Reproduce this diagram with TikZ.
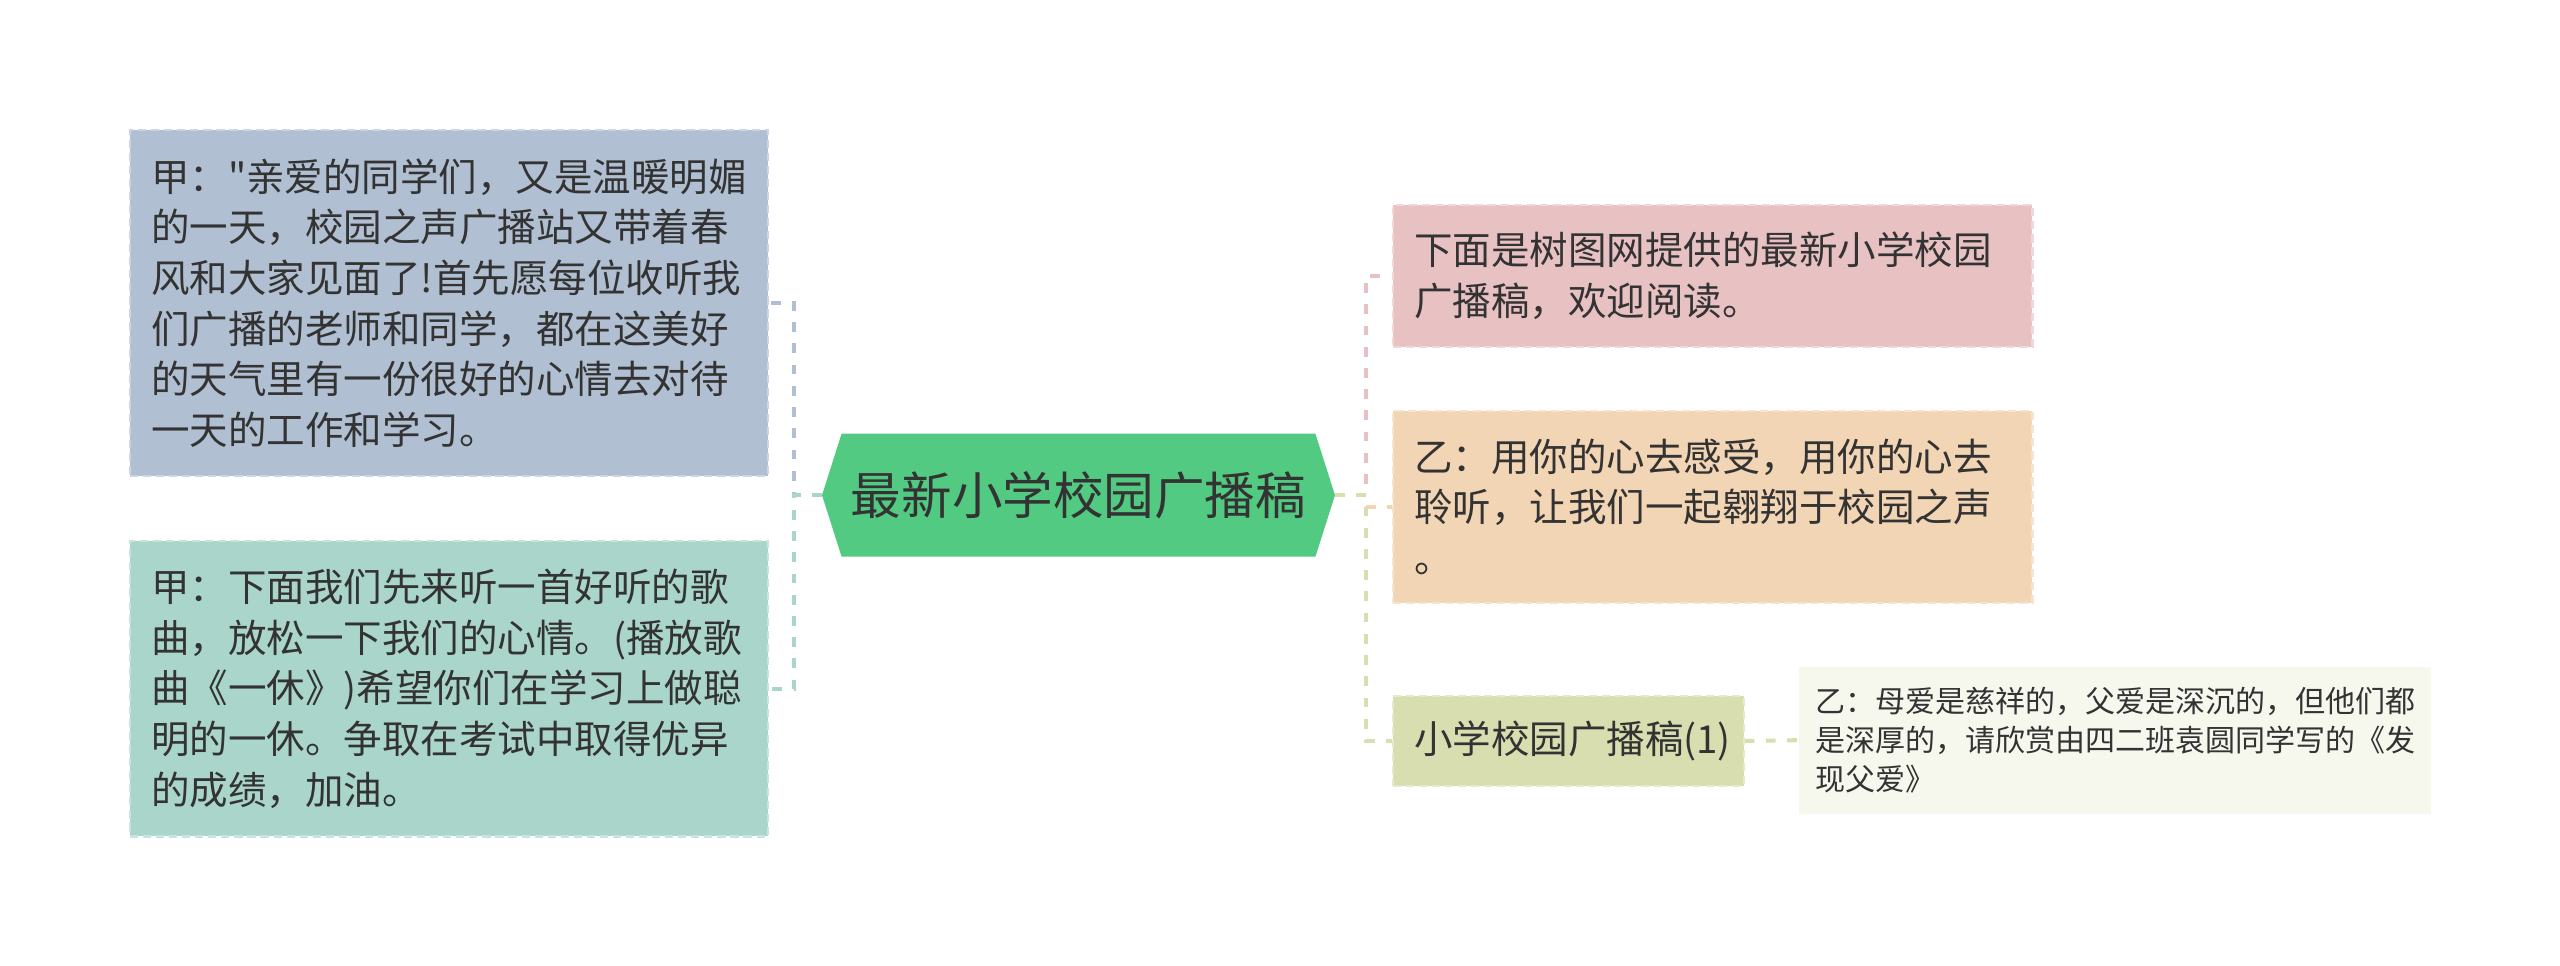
\documentclass[tikz,border=0pt]{standalone}
\usepackage{fontspec}
\newfontfamily\cjk{Noto Sans CJK SC}
\usetikzlibrary{backgrounds}
\definecolor{txt}{HTML}{333333}
\definecolor{cblue}{HTML}{B0BFD1}
\definecolor{cteal}{HTML}{A9D5CA}
\definecolor{cgreen}{HTML}{52CA82}
\definecolor{cpink}{HTML}{E8C1C3}
\definecolor{corange}{HTML}{F2D5B4}
\definecolor{colive}{HTML}{D8DEB0}
\definecolor{clight}{HTML}{F6F8EE}
\begin{document}
\begin{tikzpicture}[x=1pt,y=-1pt,
  box/.style={rectangle, anchor=north west, inner xsep=13pt, inner ysep=0pt,
    align=left, text=txt, font=\cjk\fontsize{23.6}{31}\selectfont,
    line width=1.3pt, dash pattern=on 5pt off 3pt},
  conn/.style={line width=2.5pt, dash pattern=on 6pt off 7pt},
]
\useasboundingbox (0,0) rectangle (1569,591.5);

\node[box, fill=cblue, draw=cblue!65!white, text width=365pt, minimum height=212pt] (b1) at (79,79)
{甲："亲爱的同学们，又是温暖明媚\\的一天，校园之声广播站又带着春\\风和大家见面了!首先愿每位收听我\\们广播的老师和同学，都在这美好\\的天气里有一份很好的心情去对待\\一天的工作和学习。};

\node[box, fill=cteal, draw=cteal!65!white, text width=365pt, minimum height=181pt] (b2) at (79,331)
{甲：下面我们先来听一首好听的歌\\曲，放松一下我们的心情。(播放歌\\曲《一休》)希望你们在学习上做聪\\明的一休。争取在考试中取得优异\\的成绩，加油。};

\node[box, fill=cpink, draw=cpink!65!white, text width=366pt, minimum height=87pt] (p1) at (853,125)
{下面是树图网提供的最新小学校园\\广播稿，欢迎阅读。};

\node[box, fill=corange, draw=corange!65!white, text width=366pt, minimum height=118pt] (p2) at (853,251)
{乙：用你的心去感受，用你的心去\\聆听，让我们一起翱翔于校园之声\\。};

\node[box, fill=colive, draw=colive!65!white, text width=189pt, minimum height=55pt] (p3) at (853,426)
{小学校园广播稿(1)};

\node[box, fill=clight, draw=none, inner xsep=10pt, text width=367pt, minimum height=90pt,
  font=\cjk\fontsize{18.4}{24}\selectfont] (l1) at (1102,408)
{乙：母爱是慈祥的，父爱是深沉的，但他们都\\是深厚的，请欣赏由四二班袁圆同学写的《发\\现父爱》};

\node[rectangle, minimum width=290pt, minimum height=75pt, inner sep=0pt, text=txt,
  font=\cjk\fontsize{31}{36}\selectfont] (root) at (661,303.5) {最新小学校园广播稿};
\coordinate (rl) at ([xshift=-12pt]root.west);
\coordinate (rr) at ([xshift=12pt]root.east);

\begin{scope}[on background layer]
\fill[cgreen] (root.north west) -- (root.north east) -- (rr) -- (root.south east)
  -- (root.south west) -- (rl) -- cycle;
\draw[conn, cblue] (rl) -- ++(-17,0) |- (b1.east);
\draw[conn, cteal] (rl) -- ++(-17,0) |- (b2.east);
\draw[conn, cpink] (rr) -- ++(19,0) |- (p1.west);
\draw[conn, corange] (rr) -- ++(19,0) |- (p2.west);
\draw[conn, colive] (rr) -- ++(19,0) |- (p3.west);
\draw[conn, colive] (p3.east) -- (l1.west);
\end{scope}
\end{tikzpicture}
\end{document}
